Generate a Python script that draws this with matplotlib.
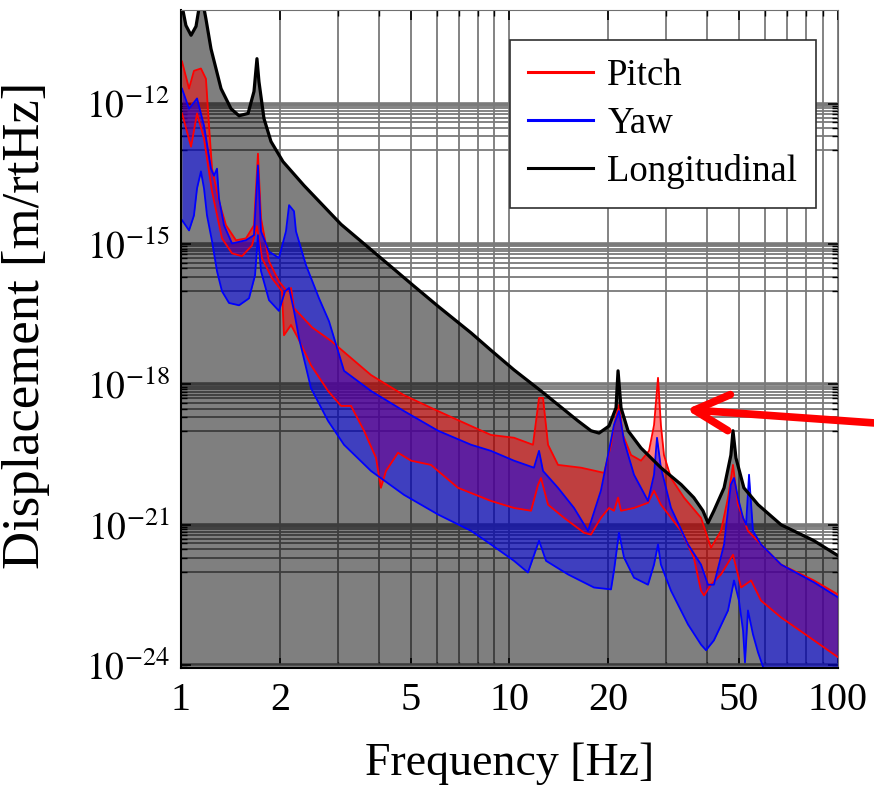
import matplotlib
matplotlib.use("Agg")
import matplotlib.pyplot as plt
import numpy as np
from matplotlib.ticker import FixedLocator, FixedFormatter, NullFormatter
from matplotlib.lines import Line2D

plt.rcParams['font.family'] = ['Liberation Serif', 'DejaVu Serif']
plt.rcParams['mathtext.fontset'] = 'stix'

# longitudinal (black), log10 of displacement
long_f = [1.0, 1.035, 1.073, 1.111, 1.134, 1.15, 1.175, 1.191, 1.234, 1.324, 1.42, 1.502, 1.6,
          1.668, 1.703, 1.727, 1.789, 1.879, 2.044, 2.368, 3.07, 4.06, 5.08, 6.06, 7.64, 8.78,
          10.32, 12.47, 16.16, 17.7, 18.73, 20.09, 21.1, 21.4, 21.85, 22.95, 25.14, 28.9, 33.3,
          36.4, 38.8, 40.2, 41.9, 45.0, 47.2, 47.9, 48.9, 51.7, 57.1, 67.1, 84.5, 100]
long_log = [-9.8, -10.33, -10.54, -10.35, -9.97, -9.6, -9.97, -10.19, -10.83, -11.68, -12.11,
            -12.26, -12.21, -11.74, -11.04, -11.53, -12.32, -12.81, -13.24, -13.75, -14.58,
            -15.3, -15.88, -16.33, -16.9, -17.27, -17.69, -18.14, -18.78, -18.99, -19.04,
            -18.89, -18.5, -17.71, -18.5, -18.99, -19.36, -19.78, -20.14, -20.42, -20.7,
            -20.96, -20.7, -20.21, -19.51, -18.99, -19.57, -20.21, -20.57, -21.0, -21.34, -21.66]

# pitch band
pitch_hi_f = [1.007, 1.058, 1.095, 1.15, 1.191, 1.217, 1.243, 1.305, 1.371, 1.47, 1.577, 1.668,
              1.715, 1.752, 1.853, 1.987, 2.102, 2.162, 2.208, 2.505, 2.862, 3.788, 4.773, 6.06,
              7.64, 8.78, 10.32, 11.79, 12.3, 12.65, 13.1, 14.05, 16.51, 19.4, 20.37, 20.8,
              21.54, 22.15, 23.44, 25.14, 26.59, 27.54, 28.32, 28.9, 29.53, 31.02, 33.98, 38.28,
              41.06, 44.04, 46.26, 47.9, 49.6, 53.2, 58.3, 67.1, 84.5, 100]
pitch_hi_log = [-11.1, -11.68, -11.3, -11.25, -11.47, -12.47, -13.39, -14.09, -14.6, -14.92,
                -14.88, -14.6, -13.07, -14.45, -15.37, -15.8, -16.01, -15.94, -16.37, -16.78,
                -17.07, -17.8, -18.23, -18.57, -18.89, -19.08, -19.14, -19.29, -18.29, -18.29,
                -19.29, -19.72, -19.78, -19.89, -19.29, -18.87, -18.44, -19.08, -19.51, -19.63,
                -19.42, -18.87, -17.86, -18.87, -19.51, -20.0, -20.42, -20.85, -21.49, -21.13,
                -20.42, -19.72, -20.57, -21.13, -21.42, -21.85, -22.19, -22.49]
pitch_lo_f = [1.007, 1.073, 1.119, 1.175, 1.243, 1.333, 1.43, 1.533, 1.645, 1.703, 1.764, 1.892,
              2.03, 2.058, 2.162, 2.271, 2.487, 2.803, 3.07, 3.293, 3.607, 3.923, 4.06, 4.207,
              4.577, 5.014, 5.768, 6.06, 6.97, 8.78, 10.32, 11.63, 12.21, 12.47, 13.1, 14.65,
              16.86, 17.7, 18.98, 20.09, 20.8, 21.4, 21.85, 23.93, 26.4, 27.54, 28.9, 33.3,
              36.4, 38.28, 39.1, 41.06, 44.04, 47.9, 50.7, 54.4, 58.3, 67.1, 84.5, 100]
pitch_lo_log = [-12.21, -12.92, -12.21, -12.75, -13.88, -14.88, -15.2, -15.26, -15.03, -14.62,
                -15.3, -15.73, -16.01, -16.95, -16.73, -17.01, -17.59, -18.14, -18.46, -18.46,
                -18.99, -19.57, -20.21, -19.85, -19.46, -19.63, -19.72, -19.85, -20.21, -20.49,
                -20.64, -20.7, -20.15, -20.0, -20.57, -20.85, -21.17, -21.21, -20.85, -20.64,
                -20.7, -20.42, -20.7, -20.64, -20.53, -20.27, -20.57, -21.13, -21.7, -22.41,
                -22.51, -22.28, -22.06, -21.64, -22.34, -22.19, -22.62, -22.98, -23.47, -23.83]

# yaw band
yaw_hi_f = [1.007, 1.058, 1.119, 1.175, 1.234, 1.26, 1.287, 1.305, 1.352, 1.43, 1.577, 1.668,
            1.715, 1.752, 1.853, 1.987, 2.087, 2.133, 2.208, 2.239, 2.401, 2.631, 2.822, 3.135,
            3.788, 4.773, 6.06, 7.64, 8.78, 10.32, 11.87, 12.3, 12.65, 14.05, 15.72, 17.34,
            18.98, 19.95, 20.8, 21.54, 22.32, 23.93, 26.4, 27.54, 28.12, 28.9, 31.02, 34.95,
            38.28, 40.2, 41.9, 45.0, 47.2, 48.24, 49.6, 51.4, 52.5, 53.6, 55.1, 58.3, 67.1,
            84.5, 100]
yaw_hi_log = [-11.68, -12.11, -11.89, -12.47, -13.39, -13.54, -13.39, -14.03, -14.6, -14.99,
              -14.92, -14.81, -13.32, -14.73, -15.16, -15.3, -14.73, -14.17, -14.3, -14.73,
              -15.45, -16.16, -16.65, -17.71, -18.14, -18.57, -18.99, -19.29, -19.42, -19.63,
              -19.78, -19.42, -19.85, -20.21, -20.64, -21.13, -20.27, -19.51, -18.87, -18.57,
              -19.21, -19.93, -20.49, -19.93, -19.14, -19.78, -20.64, -21.42, -21.85, -22.28,
              -22.28, -21.42, -20.14, -20.0, -20.42, -20.85, -21.0, -19.93, -21.13, -21.42,
              -21.85, -22.23, -22.55]
yaw_lo_f = [1.007, 1.058, 1.095, 1.119, 1.15, 1.175, 1.2, 1.243, 1.287, 1.333, 1.4, 1.502,
            1.611, 1.68, 1.715, 1.752, 1.853, 1.987, 2.073, 2.133, 2.208, 2.287, 2.487, 2.803,
            3.135, 3.788, 4.773, 6.06, 7.64, 8.78, 10.32, 11.38, 12.3, 12.92, 15.07, 18.08,
            20.37, 20.8, 21.54, 22.32, 23.93, 26.4, 27.54, 28.32, 28.9, 31.02, 34.95, 38.28,
            39.65, 41.9, 46.26, 48.24, 49.95, 51.4, 52.1, 53.2, 55.1, 57.1, 59.5, 67.1, 100]
yaw_lo_log = [-14.49, -14.71, -14.39, -13.81, -13.45, -13.81, -14.39, -14.94, -15.58, -16.01,
              -16.26, -16.31, -16.16, -15.67, -14.81, -15.58, -16.2, -16.43, -16.01, -15.94,
              -16.43, -17.01, -18.08, -18.78, -19.29, -19.85, -20.36, -20.78, -21.13, -21.42,
              -21.77, -22.02, -21.34, -21.77, -22.06, -22.34, -22.38, -21.98, -21.17, -21.7,
              -22.13, -22.28, -21.85, -21.42, -21.85, -22.41, -23.13, -23.56, -23.68, -23.47,
              -22.83, -22.19, -22.62, -23.26, -23.94, -22.83, -23.34, -23.73, -24.09, -24.47,
              -25.1]

y_major = [-24, -21, -18, -15, -12]
x_major = [1, 2, 5, 10, 20, 50, 100]


def band(f_a, log_a, f_b, log_b):
    # put two edges on a common frequency grid for fill_between
    ff = np.unique(np.concatenate([f_a, f_b]))
    lo = np.interp(np.log10(ff), np.log10(f_a), log_a)
    hi = np.interp(np.log10(ff), np.log10(f_b), log_b)
    return ff, 10.0 ** lo, 10.0 ** hi


fig = plt.figure(figsize=(8.74, 7.92), dpi=100)
ax = fig.add_axes([181 / 874, 1 - 668 / 792, 657 / 874, 658 / 792])
ax.set_xscale('log')
ax.set_yscale('log')

ax.fill_between(long_f, 1e-24, 10.0 ** np.array(long_log), color='black', alpha=0.5, lw=0)
ff, a, b = band(pitch_lo_f, pitch_lo_log, pitch_hi_f, pitch_hi_log)
ax.fill_between(ff, a, b, color='red', alpha=0.5, lw=0)
ff, a, b = band(yaw_lo_f, yaw_lo_log, yaw_hi_f, yaw_hi_log)
ax.fill_between(ff, a, b, color='blue', alpha=0.5, lw=0)

for f, v in [(pitch_hi_f, pitch_hi_log), (pitch_lo_f, pitch_lo_log)]:
    ax.plot(f, 10.0 ** np.array(v), color='red', lw=1.3)
for f, v in [(yaw_hi_f, yaw_hi_log), (yaw_lo_f, yaw_lo_log)]:
    ax.plot(f, 10.0 ** np.array(v), color='blue', lw=1.3)
ax.plot(long_f, 10.0 ** np.array(long_log), color='black', lw=2.3)

ax.set_xlim(1, 100)
ax.set_ylim(10 ** -24.06, 1e-10)

ax.xaxis.set_major_locator(FixedLocator(x_major))
ax.xaxis.set_major_formatter(FixedFormatter([str(v) for v in x_major]))
x_minor = [m * d for d in (1, 10) for m in range(2, 10) if m * d not in x_major]
ax.xaxis.set_minor_locator(FixedLocator(x_minor))
ax.xaxis.set_minor_formatter(NullFormatter())

ax.yaxis.set_major_locator(FixedLocator([10.0 ** e for e in y_major]))
ax.yaxis.set_major_formatter(FixedFormatter(['$10^{%d}$' % e for e in y_major]))
y_minor = [m * 10.0 ** (e - 1) for e in y_major for m in range(1, 10)]
ax.yaxis.set_minor_locator(FixedLocator(y_minor))
ax.yaxis.set_minor_formatter(NullFormatter())

ax.set_axisbelow(True)
ax.grid(True, which='both', axis='x', color='#7a7a7a', lw=1.3)
ax.grid(True, which='minor', axis='y', color='#7a7a7a', lw=1.3)
ax.grid(True, which='major', axis='y', color='#7a7a7a', lw=2.6)

ax.tick_params(which='both', direction='in', left=True, right=True, top=True, bottom=True,
               color='black')
ax.tick_params(which='major', length=7, width=1.2)
ax.tick_params(which='minor', length=4, width=1)
ax.tick_params(axis='x', labelsize=29, pad=10)
ax.tick_params(axis='y', labelsize=27, pad=8)
for s in ['top', 'right']:
    ax.spines[s].set_color('#707070')
for s in ['left', 'bottom']:
    ax.spines[s].set_color('black')
    ax.spines[s].set_linewidth(1.5)

ax.set_xlabel('Frequency [Hz]', fontsize=33)
ax.xaxis.set_label_coords(0.5, -0.113)
ax.set_ylabel('Displacement [m/rtHz]', fontsize=38)
ax.yaxis.set_label_coords(-0.2, 0.521)

handles = [Line2D([], [], color='red', lw=2.2), Line2D([], [], color='blue', lw=2.2),
           Line2D([], [], color='black', lw=2.2)]
leg = ax.legend(handles, ['Pitch', 'Yaw', 'Longitudinal'], loc='upper right',
                bbox_to_anchor=(0.966, 0.954), fontsize=26.5, frameon=True, fancybox=False,
                framealpha=1, edgecolor='#303030', borderaxespad=0, borderpad=0.5,
                labelspacing=0.36, handlelength=1.75, handletextpad=0.4)
leg.get_frame().set_linewidth(1.2)

ax.annotate('', xy=(34.5, 2.9e-19), xycoords='data', xytext=(1.0, 0.466),
            textcoords='figure fraction', annotation_clip=False,
            arrowprops=dict(arrowstyle='->,head_length=2.5,head_width=1.3', mutation_scale=10,
                            color='red', lw=5.5, shrinkA=0, shrinkB=0))

fig.savefig('out.png', dpi=100)
